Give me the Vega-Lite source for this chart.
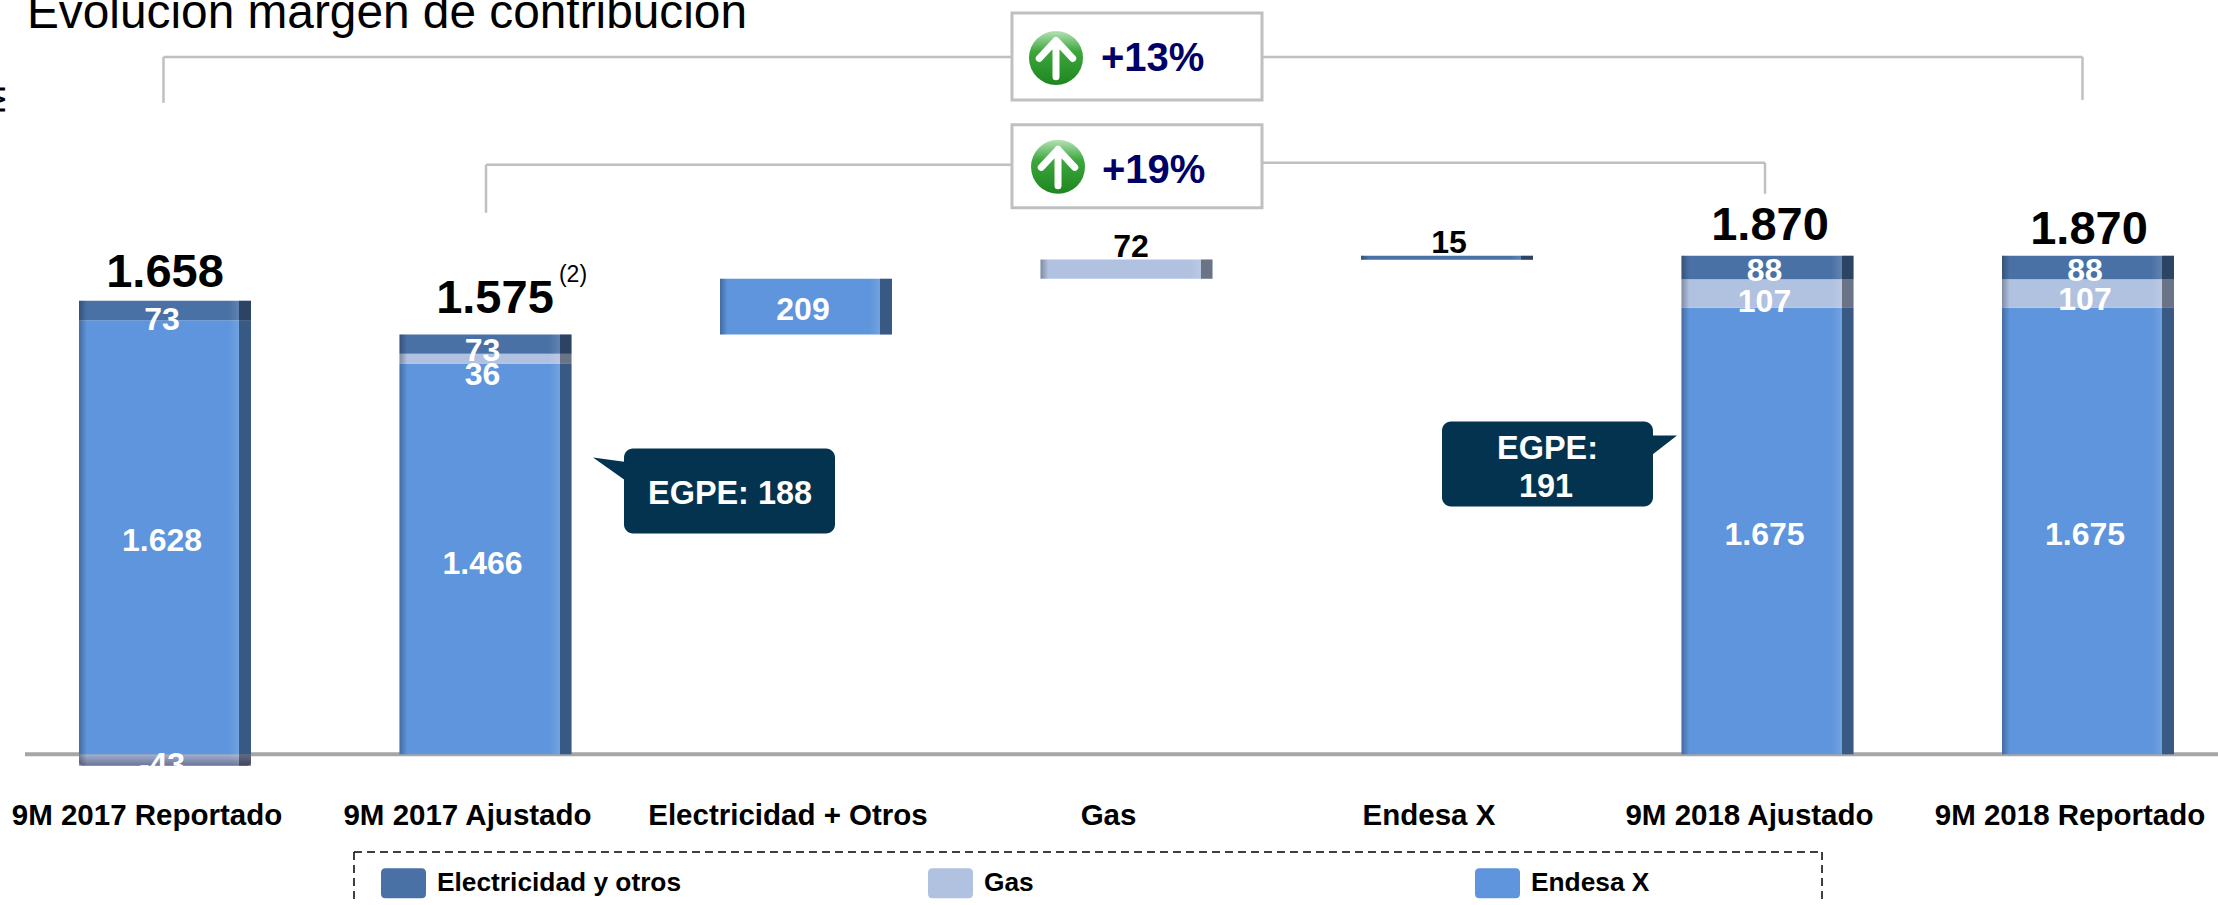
{
"$schema":"https://vega.github.io/schema/vega-lite/v6.json",
"width":2218,"height":905,"padding":0,
"autosize":{"type":"fit","contains":"padding"},
"background":"white",
"config":{"view":{"stroke":null},"font":"Liberation Sans"},
"datasets":{
"bars":[
{"cat":"9M 2017 Reportado","series":"Gas","start":-43,"end":0,"label":"-43","label_at":-30},
{"cat":"9M 2017 Reportado","series":"Endesa X","start":0,"end":1628,"label":"1.628","label_at":810},
{"cat":"9M 2017 Reportado","series":"Electricidad y otros","start":1628,"end":1701,"label":"73","label_at":1638},
{"cat":"9M 2017 Ajustado","series":"Endesa X","start":0,"end":1466,"label":"1.466","label_at":723},
{"cat":"9M 2017 Ajustado","series":"Gas","start":1466,"end":1502,"label":"36","label_at":1432},
{"cat":"9M 2017 Ajustado","series":"Electricidad y otros","start":1502,"end":1575,"label":"73","label_at":1522},
{"cat":"Electricidad + Otros","series":"Endesa X","start":1575,"end":1784,"label":"209","label_at":1675},
{"cat":"Gas","series":"Gas","start":1784,"end":1856},
{"cat":"Endesa X","series":"Electricidad y otros","start":1855,"end":1870},
{"cat":"9M 2018 Ajustado","series":"Endesa X","start":0,"end":1675,"label":"1.675","label_at":832},
{"cat":"9M 2018 Ajustado","series":"Gas","start":1675,"end":1782,"label":"107","label_at":1705},
{"cat":"9M 2018 Ajustado","series":"Electricidad y otros","start":1782,"end":1870,"label":"88","label_at":1822},
{"cat":"9M 2018 Reportado","series":"Endesa X","start":0,"end":1675,"label":"1.675","label_at":832},
{"cat":"9M 2018 Reportado","series":"Gas","start":1675,"end":1782,"label":"107","label_at":1713},
{"cat":"9M 2018 Reportado","series":"Electricidad y otros","start":1782,"end":1870,"label":"88","label_at":1822}
],
"brackets":[
{"u":-0.0047,"u2":-0.0047,"v":2443.8,"v2":2616.2},
{"u":-0.0047,"u2":2.6427,"v":2616.2,"v2":2616.2},
{"u":3.4228,"u2":5.9828,"v":2616.2,"v2":2616.2},
{"u":5.9828,"u2":5.9828,"v":2616.2,"v2":2455},
{"u":1.0016,"u2":1.0016,"v":2031.5,"v2":2211.4},
{"u":1.0016,"u2":2.6427,"v":2211.4,"v2":2211.4},
{"u":3.4228,"u2":4.9922,"v":2218.9,"v2":2218.9},
{"u":4.9922,"u2":4.9922,"v":2218.9,"v2":2102.7}
],
"boxes":[
{"u":2.6427,"u2":3.4228,"v":2781.1,"v2":2455},
{"u":2.6427,"u2":3.4228,"v":2361.3,"v2":2050.2}
],
"icons":[{"u":2.78,"v":2612.4},{"u":2.7863,"v":2203.9}],
"pct":[{"u":2.9204,"v":2563.7,"t":"+13%"},{"u":2.9236,"v":2143.9,"t":"+19%"}],
"callouts":[
{"u":1.4321,"u2":2.0905,"v":1146.9,"v2":828.3},
{"u":3.9844,"u2":4.6427,"v":1248.1,"v2":929.5}
],
"tails":[
{"tail":"a","u":1.3354,"v":1113.2,"v2":1113.2},
{"tail":"a","u":1.45,"v":1094.5,"v2":1015.7},
{"tail":"b","u":4.6334,"v":1195.6,"v2":1116.9},
{"tail":"b","u":4.7176,"v":1195.6,"v2":1195.6}
],
"calloutText":[
{"u":1.7629,"v":985.8,"t":"EGPE: 188"},
{"u":4.3136,"v":1154.4,"t":"EGPE:"},
{"u":4.3089,"v":1012,"t":"191"}
],
"totals":[
{"u":0,"v":1817.8,"t":"1.658"},
{"u":1.0296,"v":1720.4,"t":"1.575"},
{"u":5.0078,"v":1994,"t":"1.870"},
{"u":6.0031,"v":1979,"t":"1.870"}
],
"deltas":[{"u":3.014,"v":1911.5,"t":"72"},{"u":4.0062,"v":1926.5,"t":"15"}],
"legendBox":[
{"u":0.5897,"u2":5.1701,"v":-367.3,"v2":-367.3},
{"u":0.5897,"u2":0.5897,"v":-367.3,"v2":-562.2},
{"u":5.1701,"u2":5.1701,"v":-367.3,"v2":-562.2}
]
},
"layer":[
{
"data":{"values":[{"u":-0.4368,"u2":6.4056,"v":0}]},
"mark":{"type":"rule","stroke":"#a6a6a6","strokeWidth":4},
"encoding":{
"x":{"field":"u","type":"quantitative","scale":{"domain":[-0.5148,6.4056],"range":[0,2218],"nice":false,"zero":false},"axis":null},
"x2":{"field":"u2"},
"y":{"field":"v","type":"quantitative","scale":{"domain":[-562.2,2829.8],"nice":false,"zero":false},"axis":null}
}
},
{
"data":{"name":"bars"},
"encoding":{
"x":{"field":"cat","type":"nominal","sort":["9M 2017 Reportado","9M 2017 Ajustado","Electricidad + Otros","Gas","Endesa X","9M 2018 Ajustado","9M 2018 Reportado"],
"scale":{"range":[4.75,2248.25],"paddingInner":0,"paddingOuter":0},
"axis":{"title":null,"orient":"bottom","offset":-89,"domain":false,"ticks":false,"grid":false,"labelAngle":0,"labelPadding":0,"labelOffset":-18,"labelBaseline":"middle","labelFontSize":29.5,"labelFontWeight":"bold","labelColor":"#000000","labelFont":"Liberation Sans","labelLimit":500,"labelOverlap":false}}
},
"layer":[
{
"mark":{"type":"bar","size":172},
"encoding":{
"y":{"field":"start","type":"quantitative","scale":{"domain":[-562.2,2829.8],"nice":false,"zero":false},"axis":null},
"y2":{"field":"end"},
"color":{"field":"series","type":"nominal",
"scale":{"domain":["Electricidad y otros","Gas","Endesa X"],"range":["#4a71a5","#b1c1e0","#5e95dc"]},
"legend":{"orient":"none","legendX":381,"legendY":860.5,"direction":"horizontal","columns":3,"gridAlign":"all","title":null,"padding":0,"columnPadding":246,
"symbolType":"M-0.8,-0.67H0.8Q1,-0.67 1,-0.47V0.47Q1,0.67 0.8,0.67H-0.8Q-1,0.67 -1,0.47V-0.47Q-1,-0.67 -0.8,-0.67Z","symbolSize":2025,"symbolStrokeWidth":0,"labelOffset":11,"labelFontSize":26.3,"labelFontWeight":"bold","labelColor":"#000000","labelFont":"Liberation Sans","labelLimit":500}}
}
},
{
"mark":{"type":"bar","size":172,"fill":{"gradient":"linear","x1":0,"y1":0,"x2":1,"y2":0,"stops":[
{"offset":0,"color":"rgba(0,0,0,0.28)"},
{"offset":0.045,"color":"rgba(0,0,0,0)"},
{"offset":0.87,"color":"rgba(255,255,255,0)"},
{"offset":0.93,"color":"rgba(255,255,255,0.12)"},
{"offset":0.932,"color":"rgba(0,0,0,0.4)"},
{"offset":1,"color":"rgba(0,0,0,0.4)"}]}},
"encoding":{
"y":{"field":"start","type":"quantitative","scale":{"domain":[-562.2,2829.8],"nice":false,"zero":false},"axis":null},
"y2":{"field":"end"}
}
},
{
"transform":[{"filter":"datum.end <= 0"}],
"mark":{"type":"bar","size":172,"cornerRadiusBottomLeft":4,"cornerRadiusBottomRight":4,"fill":{"gradient":"linear","x1":0,"y1":0,"x2":0,"y2":1,"stops":[
{"offset":0,"color":"rgba(0,0,40,0.08)"},
{"offset":1,"color":"rgba(0,0,40,0.4)"}]}},
"encoding":{
"y":{"field":"start","type":"quantitative","scale":{"domain":[-562.2,2829.8],"nice":false,"zero":false},"axis":null},
"y2":{"field":"end"}
}
},
{
"transform":[{"filter":"isValid(datum.label)"}],
"mark":{"type":"text","color":"#ffffff","fontWeight":"bold","fontSize":32,"font":"Liberation Sans","baseline":"middle","dx":-3,"dy":2.5},
"encoding":{
"y":{"field":"label_at","type":"quantitative","scale":{"domain":[-562.2,2829.8],"nice":false,"zero":false},"axis":null},
"text":{"field":"label","type":"nominal"}
}
}
]
},
{
"encoding":{
"x":{"field":"u","type":"quantitative","scale":{"domain":[-0.5148,6.4056],"range":[0,2218],"nice":false,"zero":false},"axis":null},
"y":{"field":"v","type":"quantitative","scale":{"domain":[-562.2,2829.8],"nice":false,"zero":false},"axis":null}
},
"layer":[
{"data":{"name":"brackets"},"mark":{"type":"rule","stroke":"#c0c0c0","strokeWidth":2.5},"encoding":{"x2":{"field":"u2"},"y2":{"field":"v2"}}},
{"data":{"name":"boxes"},"mark":{"type":"rect","fill":"#ffffff","stroke":"#c0c0c0","strokeWidth":3},"encoding":{"x2":{"field":"u2"},"y2":{"field":"v2"}}},
{"data":{"name":"icons"},"mark":{"type":"point","shape":"circle","filled":true,"opacity":1,"size":2916,"strokeWidth":0,"fill":{"gradient":"linear","x1":0,"y1":0,"x2":0,"y2":1,"stops":[{"offset":0,"color":"#b5e2b5"},{"offset":0.38,"color":"#3da63d"},{"offset":1,"color":"#1f861f"}]}}},
{"data":{"name":"icons"},"mark":{"type":"point","shape":"M0,0.7L0,-0.65M-0.62,0.02L0,-0.65L0.62,0.02","filled":false,"opacity":1,"size":2916,"stroke":"#ffffff","strokeWidth":7,"strokeCap":"round","strokeJoin":"round"}},
{"data":{"name":"pct"},"mark":{"type":"text","align":"left","baseline":"alphabetic","fontWeight":"bold","fontSize":40,"color":"#000066","font":"Liberation Sans"},"encoding":{"text":{"field":"t"}}},
{"data":{"name":"tails"},"mark":{"type":"area","orient":"vertical","color":"#03334f"},"encoding":{"y2":{"field":"v2"},"detail":{"field":"tail"}}},
{"data":{"name":"callouts"},"mark":{"type":"rect","color":"#03334f","cornerRadius":9},"encoding":{"x2":{"field":"u2"},"y2":{"field":"v2"}}},
{"data":{"name":"calloutText"},"mark":{"type":"text","color":"#ffffff","fontWeight":"bold","fontSize":32.4,"font":"Liberation Sans","baseline":"middle","dy":2.5},"encoding":{"text":{"field":"t"}}},
{"data":{"name":"totals"},"mark":{"type":"text","color":"#000000","fontWeight":"bold","fontSize":47,"font":"Liberation Sans","baseline":"middle","dy":3},"encoding":{"text":{"field":"t"}}},
{"data":{"name":"deltas"},"mark":{"type":"text","color":"#000000","fontWeight":"bold","fontSize":32,"font":"Liberation Sans","baseline":"middle","dy":2.5},"encoding":{"text":{"field":"t"}}},
{"data":{"values":[{"u":1.273,"v":1802.9,"t":"(2)"}]},"mark":{"type":"text","color":"#000000","fontSize":23,"font":"Liberation Sans","baseline":"middle","dy":1},"encoding":{"text":{"field":"t"}}},
{"data":{"values":[{"u":-0.4306,"v":2724.9,"t":"Evolución margen de contribución"}]},"mark":{"type":"text","color":"#000000","fontSize":47.8,"font":"Liberation Sans","align":"left","baseline":"alphabetic","clip":true},"encoding":{"text":{"field":"t"}}},
{"data":{"values":[{"u":-0.4992,"v":2456.8,"t":"M"}]},"mark":{"type":"text","color":"#000000","fontSize":36,"font":"Liberation Sans","align":"center","baseline":"alphabetic","angle":270,"clip":true},"encoding":{"text":{"field":"t"}}},
{"data":{"name":"legendBox"},"mark":{"type":"rule","stroke":"#000000","strokeWidth":1.5,"strokeDash":[8,5]},"encoding":{"x2":{"field":"u2"},"y2":{"field":"v2"}}}
]
}
],
"resolve":{"scale":{"x":"independent"}}
}
